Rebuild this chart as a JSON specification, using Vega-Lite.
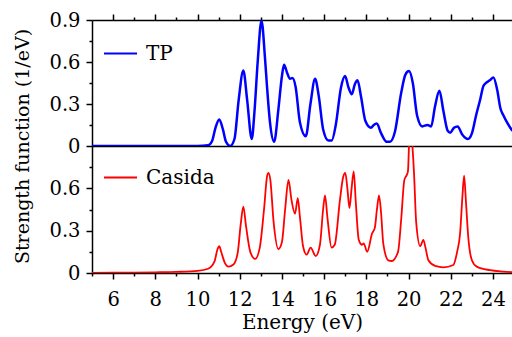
{
  "$schema": "https://vega.github.io/schema/vega-lite/v6.json",
  "background": "white",
  "padding": {"left": 13, "top": 10, "right": 0, "bottom": 0},
  "spacing": 0,
  "bounds": "flush",
  "config": {
    "font": "DejaVu Serif",
    "view": {"stroke": null},
    "axis": {
      "labelFont": "DejaVu Serif", "titleFont": "DejaVu Serif",
      "labelFontSize": 19.5, "titleFontSize": 19, "titleFontWeight": "normal",
      "labelColor": "black", "titleColor": "black",
      "domainColor": "black", "tickColor": "black",
      "domainWidth": 1.5, "tickWidth": 1.5, "grid": false
    },
    "legend": {
      "orient": "none", "title": null, "symbolType": "stroke", "symbolSize": 1089,
      "symbolStrokeWidth": 2, "labelFont": "DejaVu Serif", "labelFontSize": 20,
      "labelColor": "black", "labelOffset": 8, "padding": 0
    }
  },
  "resolve": {"scale": {"color": "independent"}},
  "datasets": {
    "tp": [
      {"e":5,"v":0,"s":"TP"},{"e":8,"v":0,"s":"TP"},{"e":10,"v":0,"s":"TP"},{"e":10.5,"v":0.005,"s":"TP"},
      {"e":10.7,"v":0.04,"s":"TP"},{"e":10.85,"v":0.13,"s":"TP"},{"e":11.03,"v":0.19,"s":"TP"},{"e":11.2,"v":0.12,"s":"TP"},
      {"e":11.35,"v":0.03,"s":"TP"},{"e":11.55,"v":0.0,"s":"TP"},{"e":11.75,"v":0.05,"s":"TP"},{"e":11.95,"v":0.33,"s":"TP"},
      {"e":12.17,"v":0.54,"s":"TP"},{"e":12.35,"v":0.33,"s":"TP"},{"e":12.57,"v":0.05,"s":"TP"},{"e":12.7,"v":0.25,"s":"TP"},
      {"e":12.85,"v":0.6,"s":"TP"},{"e":13.03,"v":0.895,"s":"TP"},{"e":13.2,"v":0.62,"s":"TP"},{"e":13.28,"v":0.45,"s":"TP"},
      {"e":13.44,"v":0.16,"s":"TP"},{"e":13.63,"v":0.03,"s":"TP"},{"e":13.83,"v":0.26,"s":"TP"},{"e":14.0,"v":0.5,"s":"TP"},
      {"e":14.1,"v":0.58,"s":"TP"},{"e":14.25,"v":0.52,"s":"TP"},{"e":14.38,"v":0.48,"s":"TP"},{"e":14.5,"v":0.485,"s":"TP"},
      {"e":14.65,"v":0.42,"s":"TP"},{"e":14.85,"v":0.17,"s":"TP"},{"e":15.13,"v":0.07,"s":"TP"},{"e":15.35,"v":0.3,"s":"TP"},
      {"e":15.57,"v":0.48,"s":"TP"},{"e":15.75,"v":0.35,"s":"TP"},{"e":15.95,"v":0.12,"s":"TP"},{"e":16.2,"v":0.04,"s":"TP"},
      {"e":16.36,"v":0.04,"s":"TP"},{"e":16.55,"v":0.15,"s":"TP"},{"e":16.8,"v":0.42,"s":"TP"},{"e":16.99,"v":0.5,"s":"TP"},
      {"e":17.15,"v":0.42,"s":"TP"},{"e":17.31,"v":0.37,"s":"TP"},{"e":17.45,"v":0.44,"s":"TP"},{"e":17.58,"v":0.47,"s":"TP"},
      {"e":17.75,"v":0.35,"s":"TP"},{"e":17.95,"v":0.18,"s":"TP"},{"e":18.22,"v":0.13,"s":"TP"},{"e":18.35,"v":0.15,"s":"TP"},
      {"e":18.49,"v":0.16,"s":"TP"},{"e":18.7,"v":0.09,"s":"TP"},{"e":18.96,"v":0.03,"s":"TP"},{"e":19.12,"v":0.03,"s":"TP"},
      {"e":19.35,"v":0.1,"s":"TP"},{"e":19.65,"v":0.38,"s":"TP"},{"e":19.85,"v":0.51,"s":"TP"},{"e":20.02,"v":0.535,"s":"TP"},
      {"e":20.2,"v":0.45,"s":"TP"},{"e":20.4,"v":0.22,"s":"TP"},{"e":20.65,"v":0.14,"s":"TP"},{"e":20.89,"v":0.15,"s":"TP"},
      {"e":21.07,"v":0.14,"s":"TP"},{"e":21.25,"v":0.28,"s":"TP"},{"e":21.46,"v":0.395,"s":"TP"},{"e":21.65,"v":0.25,"s":"TP"},
      {"e":21.85,"v":0.11,"s":"TP"},{"e":21.97,"v":0.095,"s":"TP"},{"e":22.15,"v":0.13,"s":"TP"},{"e":22.32,"v":0.14,"s":"TP"},
      {"e":22.55,"v":0.08,"s":"TP"},{"e":22.81,"v":0.05,"s":"TP"},{"e":23.0,"v":0.09,"s":"TP"},{"e":23.2,"v":0.22,"s":"TP"},
      {"e":23.39,"v":0.33,"s":"TP"},{"e":23.55,"v":0.43,"s":"TP"},{"e":23.71,"v":0.455,"s":"TP"},{"e":23.85,"v":0.47,"s":"TP"},
      {"e":24.02,"v":0.49,"s":"TP"},{"e":24.2,"v":0.4,"s":"TP"},{"e":24.35,"v":0.27,"s":"TP"},{"e":24.49,"v":0.22,"s":"TP"},
      {"e":24.7,"v":0.16,"s":"TP"},{"e":24.89,"v":0.115,"s":"TP"},{"e":25,"v":0.1,"s":"TP"}
    ],
    "cas": [
      {"e":5,"v":0,"s":"Casida"},{"e":6,"v":0.002,"s":"Casida"},{"e":7,"v":0.003,"s":"Casida"},{"e":8,"v":0.005,"s":"Casida"},
      {"e":9,"v":0.008,"s":"Casida"},{"e":10,"v":0.015,"s":"Casida"},{"e":10.5,"v":0.03,"s":"Casida"},{"e":10.8,"v":0.08,"s":"Casida"},
      {"e":10.95,"v":0.17,"s":"Casida"},{"e":11.03,"v":0.19,"s":"Casida"},{"e":11.12,"v":0.15,"s":"Casida"},{"e":11.3,"v":0.07,"s":"Casida"},
      {"e":11.46,"v":0.045,"s":"Casida"},{"e":11.7,"v":0.06,"s":"Casida"},{"e":11.9,"v":0.14,"s":"Casida"},{"e":12.05,"v":0.35,"s":"Casida"},
      {"e":12.17,"v":0.47,"s":"Casida"},{"e":12.3,"v":0.33,"s":"Casida"},{"e":12.5,"v":0.15,"s":"Casida"},{"e":12.73,"v":0.1,"s":"Casida"},
      {"e":12.95,"v":0.18,"s":"Casida"},{"e":13.15,"v":0.45,"s":"Casida"},{"e":13.3,"v":0.69,"s":"Casida"},{"e":13.36,"v":0.71,"s":"Casida"},
      {"e":13.45,"v":0.66,"s":"Casida"},{"e":13.6,"v":0.37,"s":"Casida"},{"e":13.83,"v":0.17,"s":"Casida"},{"e":14.0,"v":0.22,"s":"Casida"},
      {"e":14.15,"v":0.45,"s":"Casida"},{"e":14.31,"v":0.66,"s":"Casida"},{"e":14.45,"v":0.52,"s":"Casida"},{"e":14.62,"v":0.42,"s":"Casida"},
      {"e":14.75,"v":0.53,"s":"Casida"},{"e":14.85,"v":0.4,"s":"Casida"},{"e":15.0,"v":0.19,"s":"Casida"},{"e":15.17,"v":0.13,"s":"Casida"},
      {"e":15.36,"v":0.18,"s":"Casida"},{"e":15.6,"v":0.12,"s":"Casida"},{"e":15.8,"v":0.2,"s":"Casida"},{"e":15.95,"v":0.45,"s":"Casida"},
      {"e":16.04,"v":0.55,"s":"Casida"},{"e":16.15,"v":0.4,"s":"Casida"},{"e":16.35,"v":0.18,"s":"Casida"},{"e":16.5,"v":0.2,"s":"Casida"},
      {"e":16.75,"v":0.52,"s":"Casida"},{"e":16.9,"v":0.68,"s":"Casida"},{"e":17.0,"v":0.71,"s":"Casida"},{"e":17.1,"v":0.6,"s":"Casida"},
      {"e":17.2,"v":0.46,"s":"Casida"},{"e":17.3,"v":0.6,"s":"Casida"},{"e":17.4,"v":0.72,"s":"Casida"},{"e":17.5,"v":0.5,"s":"Casida"},
      {"e":17.64,"v":0.235,"s":"Casida"},{"e":17.8,"v":0.2,"s":"Casida"},{"e":17.87,"v":0.21,"s":"Casida"},{"e":18.04,"v":0.15,"s":"Casida"},
      {"e":18.27,"v":0.28,"s":"Casida"},{"e":18.4,"v":0.32,"s":"Casida"},{"e":18.5,"v":0.45,"s":"Casida"},{"e":18.6,"v":0.55,"s":"Casida"},
      {"e":18.7,"v":0.42,"s":"Casida"},{"e":18.8,"v":0.21,"s":"Casida"},{"e":19.04,"v":0.09,"s":"Casida"},{"e":19.2,"v":0.085,"s":"Casida"},
      {"e":19.5,"v":0.15,"s":"Casida"},{"e":19.65,"v":0.38,"s":"Casida"},{"e":19.8,"v":0.66,"s":"Casida"},{"e":19.9,"v":0.69,"s":"Casida"},
      {"e":19.97,"v":0.72,"s":"Casida"},{"e":20.03,"v":0.95,"s":"Casida"},{"e":20.08,"v":1.1,"s":"Casida"},{"e":20.16,"v":0.95,"s":"Casida"},
      {"e":20.26,"v":0.7,"s":"Casida"},{"e":20.36,"v":0.36,"s":"Casida"},{"e":20.55,"v":0.19,"s":"Casida"},{"e":20.7,"v":0.235,"s":"Casida"},
      {"e":20.8,"v":0.18,"s":"Casida"},{"e":20.94,"v":0.09,"s":"Casida"},{"e":21.26,"v":0.05,"s":"Casida"},{"e":21.65,"v":0.04,"s":"Casida"},
      {"e":22.12,"v":0.057,"s":"Casida"},{"e":22.3,"v":0.15,"s":"Casida"},{"e":22.44,"v":0.28,"s":"Casida"},{"e":22.55,"v":0.54,"s":"Casida"},
      {"e":22.63,"v":0.69,"s":"Casida"},{"e":22.72,"v":0.5,"s":"Casida"},{"e":22.83,"v":0.25,"s":"Casida"},{"e":23.0,"v":0.09,"s":"Casida"},
      {"e":23.23,"v":0.045,"s":"Casida"},{"e":23.86,"v":0.02,"s":"Casida"},{"e":24.5,"v":0.01,"s":"Casida"},{"e":25,"v":0.005,"s":"Casida"}
    ]
  },
  "vconcat": [
    {
      "width": 420, "height": 126,
      "data": {"name": "tp"},
      "layer": [
        {
          "mark": {"type": "line", "strokeWidth": 2.5, "interpolate": "monotone", "clip": true},
          "encoding": {
            "x": {"field": "e", "type": "quantitative", "scale": {"domain": [5, 24.9], "nice": false, "zero": false},
                  "axis": {"orient": "top", "values": [6,8,10,12,14,16,18,20,22,24], "labels": false, "title": null, "tickSize": 6}},
            "y": {"field": "v", "type": "quantitative", "scale": {"domain": [0, 0.9], "nice": false},
                  "axis": {"orient": "left", "values": [0,0.3,0.6,0.9], "format": ".1~f", "title": null, "tickSize": 6, "labelPadding": 6}},
            "color": {"field": "s", "type": "nominal", "scale": {"domain": ["TP"], "range": ["#0000ff"]},
                      "legend": {"legendX": 11, "legendY": 16}}
          }
        },
        {
          "mark": {"type": "line", "opacity": 0},
          "encoding": {
            "x": {"field": "e", "type": "quantitative",
                  "axis": {"orient": "top", "values": [7,9,11,13,15,17,19,21,23], "labels": false, "title": null, "tickSize": 3, "domain": false}},
            "y": {"field": "v", "type": "quantitative",
                  "axis": {"orient": "left", "values": [0.15,0.45,0.75], "labels": false, "title": null, "tickSize": 3, "domain": false}}
          }
        },
        {
          "mark": {"type": "line", "opacity": 0},
          "encoding": {
            "x": {"field": "e", "type": "quantitative",
                  "axis": {"orient": "bottom", "ticks": false, "labels": false, "title": null}},
            "y": {"field": "v", "type": "quantitative", "axis": null}
          }
        }
      ],
      "resolve": {"axis": {"x": "independent", "y": "independent"}}
    },
    {
      "width": 420, "height": 127,
      "data": {"name": "cas"},
      "layer": [
        {
          "mark": {"type": "line", "strokeWidth": 1.8, "interpolate": "monotone", "clip": true},
          "encoding": {
            "x": {"field": "e", "type": "quantitative", "scale": {"domain": [5, 24.9], "nice": false, "zero": false},
                  "axis": {"orient": "bottom", "values": [6,8,10,12,14,16,18,20,22,24], "title": "Energy (eV)", "titleFontSize": 20, "tickSize": 6, "labelPadding": 11, "titlePadding": 4}},
            "y": {"field": "v", "type": "quantitative", "scale": {"domain": [0, 0.9], "nice": false},
                  "axis": {"orient": "left", "values": [0,0.3,0.6], "format": ".1~f", "title": "Strength function (1/eV)", "titleY": 0, "tickSize": 6, "labelPadding": 6, "titlePadding": 16}},
            "color": {"field": "s", "type": "nominal", "scale": {"domain": ["Casida"], "range": ["#ff0000"]},
                      "legend": {"legendX": 11, "legendY": 14}}
          }
        },
        {
          "mark": {"type": "line", "opacity": 0},
          "encoding": {
            "x": {"field": "e", "type": "quantitative",
                  "axis": {"orient": "bottom", "values": [5,7,9,11,13,15,17,19,21,23], "labels": false, "title": null, "tickSize": 3, "domain": false}},
            "y": {"field": "v", "type": "quantitative",
                  "axis": {"orient": "left", "values": [0.15,0.45,0.75], "labels": false, "title": null, "tickSize": 3, "domain": false}}
          }
        }
      ],
      "resolve": {"axis": {"x": "independent", "y": "independent"}}
    }
  ]
}
